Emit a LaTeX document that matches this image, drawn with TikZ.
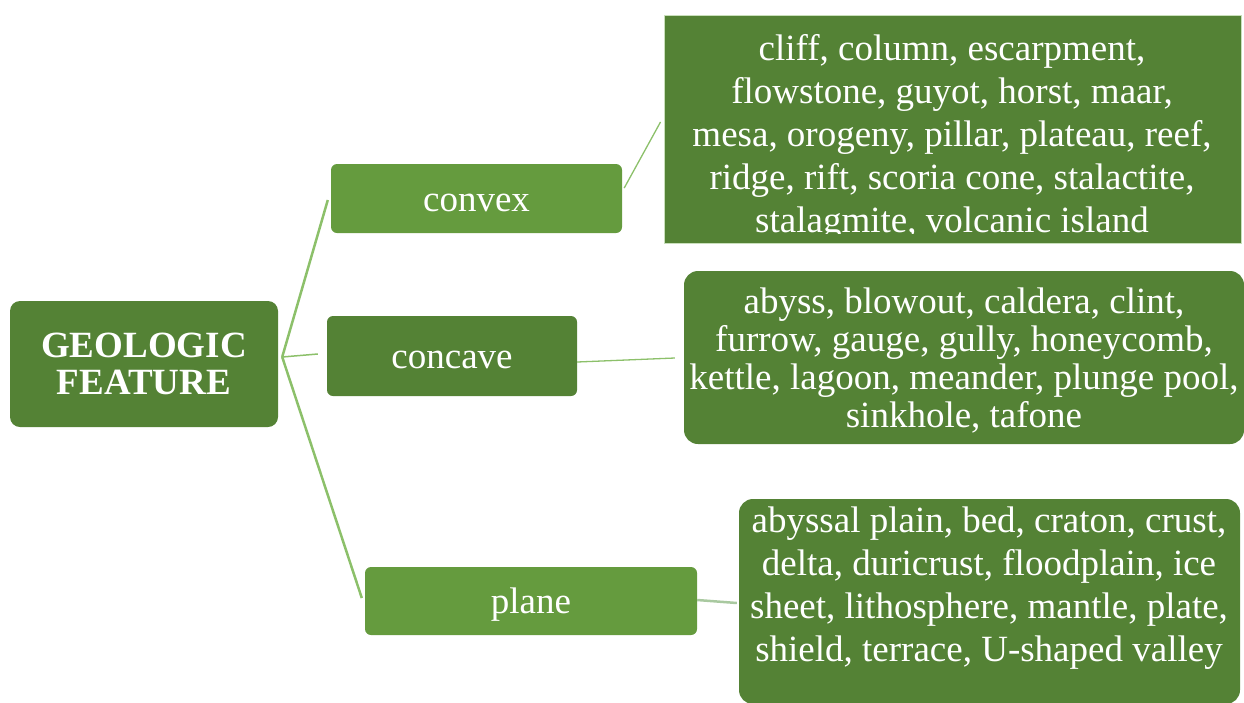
\documentclass[tikz,border=0pt]{standalone}
\usepackage{fontspec}
\setmainfont{Liberation Serif}
\usetikzlibrary{calc}

\definecolor{gdark}{HTML}{548235}
\definecolor{glight}{HTML}{659B3E}
\definecolor{glink}{HTML}{8CC06A}
\definecolor{glinkpale}{HTML}{A9C9A0}
\definecolor{gedge}{HTML}{C9DFBB}

\tikzset{
  rootbox/.style={fill=gdark, rounded corners=10pt, inner sep=0pt, text=white,
    align=center, font=\fontsize{37}{37}\selectfont\bfseries},
  midbox/.style={rounded corners=6pt, inner sep=0pt, text=white,
    text height=26pt, text depth=1pt, font=\fontsize{37}{40}\selectfont},
  leafbox/.style={fill=gdark, rounded corners=14pt, inner sep=0pt},
  leaftext/.style={text=white, align=center, inner sep=0pt},
  trunk/.style={draw=glink, line width=2.5pt},
  twig/.style={draw=glink, line width=1.3pt},
}

\begin{document}
\begin{tikzpicture}[x=1pt, y=-1pt]
\useasboundingbox (0,0) rectangle (1244,702);

% root
\node[rootbox, minimum width=268pt, minimum height=126pt] (root) at (144,364)
  {GEOLOGIC\\FEATURE};

% second level
\node[midbox, fill=glight, minimum width=291pt, minimum height=69pt] (convex) at (476.5,198.5) {convex};
\node[midbox, fill=gdark,  minimum width=250pt, minimum height=80pt] (concave) at (452,356) {concave};
\node[midbox, fill=glight, minimum width=332pt, minimum height=68pt] (plane) at (531,601) {plane};

% leaves
\node[fill=gdark, draw=gedge, line width=1pt, inner sep=0pt,
      minimum width=577pt, minimum height=228pt] (convexL) at (952.5,129) {};
\begin{scope}
  \clip (664,15) rectangle (1241,233);
  \node[leaftext, font=\fontsize{37}{43}\selectfont] (convexT) at (952,137)
    {cliff, column, escarpment,\\flowstone, guyot, horst, maar,\\mesa, orogeny, pillar, plateau, reef,\\ridge, rift, scoria cone, stalactite,\\stalagmite, volcanic island};
\end{scope}

\node[leafbox, minimum width=560pt, minimum height=173pt] (concaveL) at (964,357.5) {};
\node[leaftext, font=\fontsize{37}{38}\selectfont] (concaveT) at (964,360.5)
  {abyss, blowout, caldera, clint,\\furrow, gauge, gully, honeycomb,\\kettle, lagoon, meander, plunge pool,\\sinkhole, tafone};

\node[leafbox, minimum width=501pt, minimum height=205pt] (planeL) at (989.5,601.5) {};
\node[leaftext, font=\fontsize{37}{43}\selectfont] (planeT) at (989,588)
  {abyssal plain, bed, craton, crust,\\delta, duricrust, floodplain, ice\\sheet, lithosphere, mantle, plate,\\shield, terrace, U-shaped valley};

% connectors
\coordinate (hub) at ($(root.east)+(4,-7)$);
\draw[trunk] (hub) -- ($(convex.west)+(-3,1.5)$);
\draw[trunk, line width=1.5pt] (hub) -- ($(concave.west)+(-9,-2)$);
\draw[trunk] (hub) -- ($(plane.west)+(-3,-3)$);

\draw[twig] ($(convex.east)+(2,-10.5)$) -- ($(convexL.west)+(-3,-7)$);
\draw[twig] ($(concave.east)+(0,6)$) -- ($(concaveL.west)+(-9,0.5)$);
\draw[draw=glinkpale, line width=2.5pt] ($(plane.east)+(0,-1)$) -- ($(planeL.west)+(-2,1.5)$);
\end{tikzpicture}
\end{document}
